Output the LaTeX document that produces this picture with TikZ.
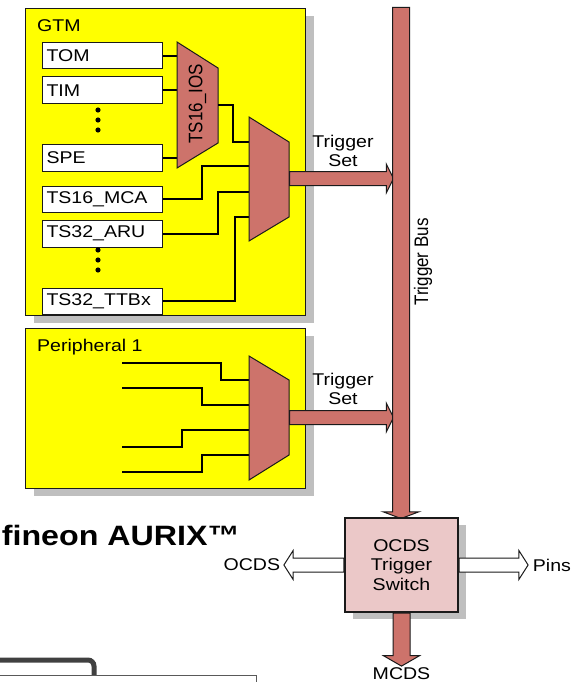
\documentclass[tikz,border=0pt]{standalone}
\usepackage{graphicx}
\usepackage{fontspec}
\setmainfont{Liberation Sans}[FakeStretch=1.15]
\newfontfamily\upfont{Liberation Sans}
\usetikzlibrary{arrows.meta,positioning,shapes.arrows,shadows,calc}
\definecolor{gtmyel}{HTML}{FFFF00}
\definecolor{muxred}{HTML}{CD736B}
\definecolor{swpink}{HTML}{EBC8C8}
\definecolor{shd}{HTML}{BFBFBF}
\definecolor{edge}{HTML}{1A1A1A}
\newcommand{\lbl}{\fontsize{17}{19.5}\selectfont}
\newcommand{\uplbl}[1]{\scalebox{1}[1.15]{\upfont\lbl #1}}
\tikzset{
  blk/.style={draw=edge,line width=1.2pt,fill=gtmyel,anchor=north west,inner sep=0pt,
    drop shadow={shadow xshift=8pt,shadow yshift=-7pt,fill=shd,opacity=1}},
  mod/.style={draw=edge,line width=1pt,fill=white,text width=112pt,align=left,
    inner xsep=4pt,inner ysep=0pt,minimum height=26.5pt,font=\lbl},
  mux/.style={draw=edge,line width=1pt,fill=muxred},
  wire/.style={line width=1.6pt,black},
  fat/.style={single arrow,draw=edge,line width=1pt,fill=muxred,inner xsep=0pt,inner ysep=6.5pt,
    single arrow head extend=7.5pt,single arrow tip angle=127},
  wide/.style={fat,inner ysep=8pt,single arrow head extend=9.5pt},
  hollow/.style={fat,fill=white,single arrow tip angle=115},
  tag/.style={font=\lbl,inner sep=0pt,align=center},
}
\begin{document}
\begin{tikzpicture}[x=1pt,y=-1pt]
\useasboundingbox (0,0) rectangle (570,682);

% the two source blocks
\node[blk,minimum width=280pt,minimum height=307pt] (gtm) at (25,8) {};
\node[tag,anchor=west] (gtmname) at (37,26) {GTM};
\node[blk,minimum width=280pt,minimum height=160pt] (peri) at (25,328) {};
\node[tag,anchor=west] (periname) at (37,347) {Peripheral 1};

% GTM trigger sources
\node[mod,anchor=north west] (tom) at (42,42) {TOM};
\node[mod,below=7pt of tom] (tim) {TIM};
\node[mod,below=40pt of tim] (spe) {SPE};
\node[mod,below=14pt of spe] (mca) {TS16\_MCA};
\node[mod,below=7pt of mca] (aru) {TS32\_ARU};
\node[mod,below=40pt of aru] (ttb) {TS32\_TTBx};
\foreach \y in {110,120,130,250,260,270}
  \fill (98,\y) circle (2.6pt);

% TS16_IOS mux
\coordinate (ios-nw) at (177,42);
\coordinate (ios-ne) at (218,68);
\coordinate (ios-se) at (218,143);
\coordinate (ios-sw) at (177,168);
\coordinate (ios-out) at (218,105);
\foreach \m in {tom,tim,spe}
  \draw[wire] (\m.east) -- (\m.east -| ios-nw);
\draw[mux] (ios-nw) -- (ios-ne) -- (ios-se) -- (ios-sw) -- cycle;
\node[tag,rotate=90] (iosname) at (197.5,104) {\uplbl{TS16\_IOS}};

% GTM output mux
\coordinate (gm-nw) at (249,117);
\coordinate (gm-ne) at (289,142);
\coordinate (gm-se) at (289,217);
\coordinate (gm-sw) at (249,241);
\coordinate (gm-i1) at (249,142);
\coordinate (gm-i2) at (249,166);
\coordinate (gm-i3) at (249,192);
\coordinate (gm-i4) at (249,217);
\coordinate (gm-out) at (289,178.5);
\draw[wire] (ios-out) -| ([xshift=-16pt]gm-i1) -- (gm-i1);
\draw[wire] (mca.east) -| ([xshift=-47pt]gm-i2) -- (gm-i2);
\draw[wire] (aru.east) -| ([xshift=-31pt]gm-i3) -- (gm-i3);
\draw[wire] (ttb.east) -| ([xshift=-14pt]gm-i4) -- (gm-i4);
\draw[mux] (gm-nw) -- (gm-ne) -- (gm-se) -- (gm-sw) -- cycle;

% peripheral mux
\coordinate (pm-nw) at (249,356);
\coordinate (pm-ne) at (289,380);
\coordinate (pm-se) at (289,455);
\coordinate (pm-sw) at (249,480);
\coordinate (pm-out) at (289,417.5);
\coordinate (pin1) at (122,363);
\coordinate (pin2) at (122,388);
\coordinate (pin3) at (122,447);
\coordinate (pin4) at (122,472);
\coordinate (pm-i1) at (249,380);
\coordinate (pm-i2) at (249,405);
\coordinate (pm-i3) at (249,430);
\coordinate (pm-i4) at (249,455);
\draw[wire] (pin1) -| ([xshift=-28pt]pm-i1) -- (pm-i1);
\draw[wire] (pin2) -| ([xshift=-47pt]pm-i2) -- (pm-i2);
\draw[wire] (pin3) -| ([xshift=-67pt]pm-i3) -- (pm-i3);
\draw[wire] (pin4) -| ([xshift=-47pt]pm-i4) -- (pm-i4);
\draw[mux] (pm-nw) -- (pm-ne) -- (pm-se) -- (pm-sw) -- cycle;

% trigger sets onto the bus
\node[fat,anchor=tail,minimum height=104pt] (set1) at (gm-out) {};
\node[fat,anchor=tail,minimum height=104pt] (set2) at (pm-out) {};
\node[tag] (set1name) at (343,151) {Trigger\\Set};
\node[tag] (set2name) at (343,389) {Trigger\\Set};

% trigger bus and switch
\node[wide,rotate=-90,anchor=tail,minimum height=511pt,single arrow tip angle=139] (bus) at (401,7) {};
\node[tag,rotate=90] (busname) at (423,262) {\uplbl{Trigger Bus}};
\node[draw=edge,line width=1.2pt,fill=swpink,minimum width=113pt,minimum height=94pt,
  font=\lbl,align=center,
  drop shadow={shadow xshift=8pt,shadow yshift=-7pt,fill=shd,opacity=1}]
  (ocds) at (401.5,565) {OCDS\\Trigger\\Switch};
\node[hollow,rotate=180,anchor=tail,minimum height=60pt] (toocds) at (ocds.west) {};
\node[hollow,anchor=tail,minimum height=69pt] (topins) at (ocds.east) {};
\node[wide,rotate=-90,anchor=tail,minimum height=53pt,single arrow tip angle=120] (tomcds) at (ocds.south) {};
\node[tag,left=3pt of toocds.tip] (ocdsname) {OCDS};
\node[tag,right=4pt of topins.tip] (pinsname) {Pins};
\node[tag,below=1pt of tomcds.tip] (mcdsname) {MCDS};

% slide leftovers
\node[font=\fontsize{28}{32}\selectfont\bfseries,anchor=base east,inner sep=0pt] (brand) at (240,545) {Infineon AURIX™};
\draw[line width=5pt,black!75,rounded corners=6pt] (-10,660) -- (94,660) -- (94,690);
\filldraw[fill=white,draw=black!65,line width=0.8pt] (-10,675) rectangle (256,700);
\end{tikzpicture}
\end{document}
